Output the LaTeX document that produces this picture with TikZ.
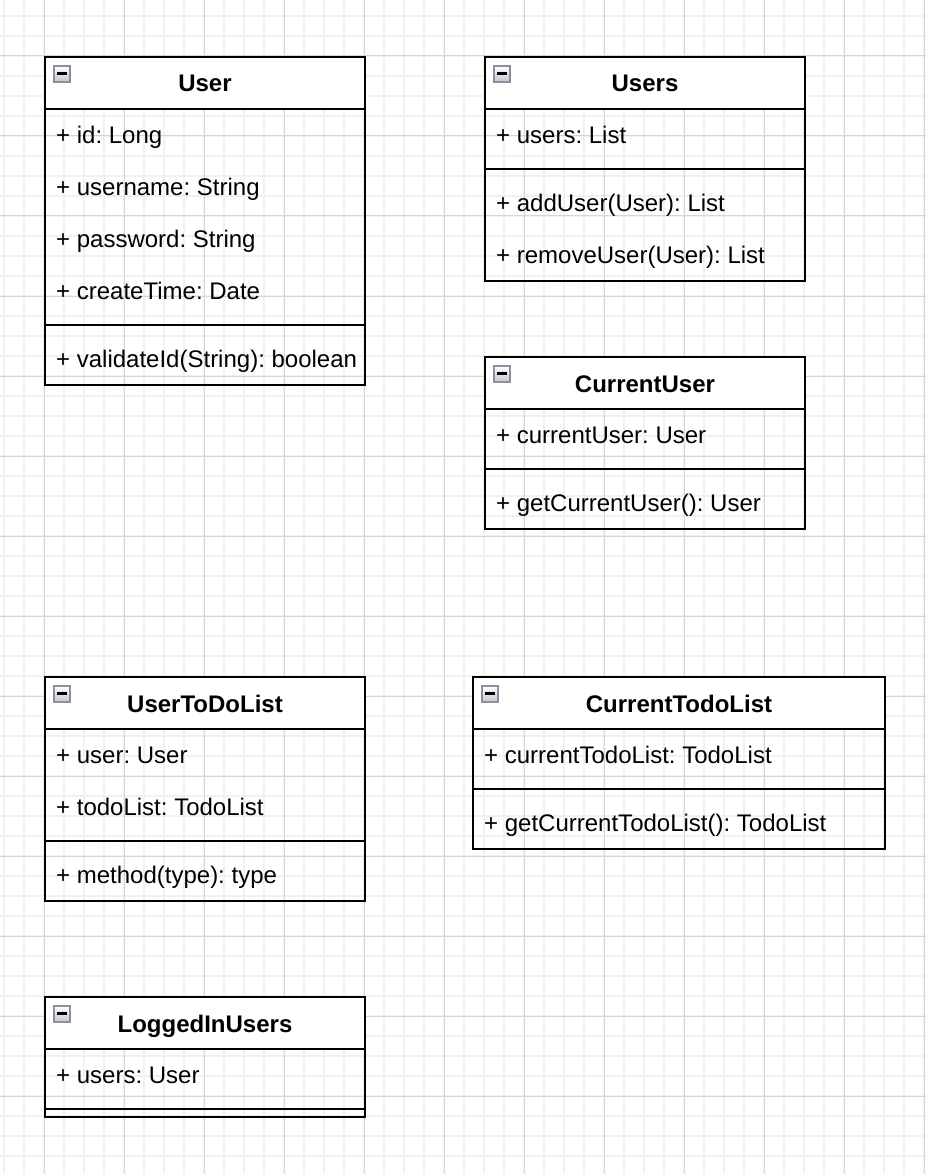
\documentclass[tikz,border=0pt]{standalone}
\usepackage{fontspec}
\setmainfont{Liberation Sans}
\usetikzlibrary{calc}
\frenchspacing
\definecolor{gridminor}{HTML}{F1F1F1}
\definecolor{gridmajor}{HTML}{D6D6D6}
\definecolor{iconframe}{HTML}{8A90A0}
\tikzset{
  title/.style={anchor=base, inner sep=0pt, font=\fontsize{24}{28}\selectfont\bfseries},
  member/.style={anchor=base west, inner sep=0pt, font=\fontsize{24}{28}\selectfont},
  box/.style={line width=2pt},
}

\begin{document}
\begin{tikzpicture}[x=1pt,y=-1pt]
\useasboundingbox (0,0) rectangle (926,1174);
\fill[white] (0,0) rectangle (926,1174);
\foreach \gx in {4,24,...,924} \draw[gridminor, line width=1.5pt] (\gx,0) -- (\gx,1174);
\foreach \gy in {16,36,...,1166} \draw[gridminor, line width=1.5pt] (0,\gy) -- (926,\gy);
\foreach \gx in {44,124,...,924} \draw[gridmajor, line width=1pt] (\gx,0) -- (\gx,1174);
\foreach \gy in {56,136,...,1096} \draw[gridmajor, line width=1pt] (0,\gy) -- (926,\gy);

% User
\draw[box] (45,57) rectangle (365,385);
\draw[box, fill=white] (45,57) rectangle (365,109);
\draw[box] (45,325) -- (365,325);
\node[title] (userTitle) at (205,92) {User};
\node[member] (userId) at (56,143.5) {+ id: Long};
\node[member] (userName) at (56,195.5) {+ username: String};
\node[member] (userPassword) at (56,247.5) {+ password: String};
\node[member] (userCreate) at (56,299.5) {+ createTime: Date};
\node[member] (userValidate) at (56,367.5) {+ validateId(String): boolean};

% Users
\draw[box] (485,57) rectangle (805,281);
\draw[box, fill=white] (485,57) rectangle (805,109);
\draw[box] (485,169) -- (805,169);
\node[title] (usersTitle) at (645,92) {Users};
\node[member] (usersList) at (496,143.5) {+ users: List};
\node[member] (usersAdd) at (496,211.5) {+ addUser(User): List};
\node[member] (usersRemove) at (496,263.5) {+ removeUser(User): List};

% CurrentUser
\draw[box] (485,357) rectangle (805,529);
\draw[box, fill=white] (485,357) rectangle (805,409);
\draw[box] (485,469) -- (805,469);
\node[title] (curUserTitle) at (645,392) {CurrentUser};
\node[member] (curUserAttr) at (496,443.5) {+ currentUser: User};
\node[member] (curUserGet) at (496,511.5) {+ getCurrentUser(): User};

% UserToDoList
\draw[box] (45,677) rectangle (365,901);
\draw[box, fill=white] (45,677) rectangle (365,729);
\draw[box] (45,841) -- (365,841);
\node[title] (todoTitle) at (205,712) {UserToDoList};
\node[member] (todoUser) at (56,763.5) {+ user: User};
\node[member] (todoList) at (56,815.5) {+ todoList: TodoList};
\node[member] (todoMethod) at (56,883.5) {+ method(type): type};

% CurrentTodoList
\draw[box] (473,677) rectangle (885,849);
\draw[box, fill=white] (473,677) rectangle (885,729);
\draw[box] (473,789) -- (885,789);
\node[title] (curTodoTitle) at (679,712) {CurrentTodoList};
\node[member] (curTodoAttr) at (484,763.5) {+ currentTodoList: TodoList};
\node[member] (curTodoGet) at (484,831.5) {+ getCurrentTodoList(): TodoList};

% LoggedInUsers
\draw[box] (45,997) rectangle (365,1117);
\draw[box, fill=white] (45,997) rectangle (365,1049);
\draw[box] (45,1109) -- (365,1109);
\node[title] (loggedTitle) at (205,1032) {LoggedInUsers};
\node[member] (loggedUsers) at (56,1083.5) {+ users: User};

% collapse icons
\foreach \cx/\cy in {45/57, 485/57, 485/357, 45/677, 473/677, 45/997} {
  \shade[top color=white, bottom color=gray!45, draw=iconframe, line width=1.5pt] (\cx+9,\cy+9) rectangle +(16,16);
  \draw[line width=2.5pt] (\cx+12,\cy+16.5) -- +(10,0);
}
\end{tikzpicture}
\end{document}
